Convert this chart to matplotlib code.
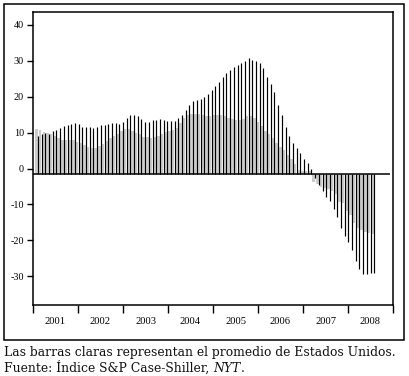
import numpy as np
import matplotlib
matplotlib.use("Agg")
import matplotlib.pyplot as plt
from matplotlib.patches import Rectangle

# ---------------- data (monthly, Jan 2001 - Aug 2008) ----------------
years = ["2001", "2002", "2003", "2004", "2005", "2006", "2007", "2008"]
yticks = [-30, -20, -10, 0, 10, 20, 30, 40]

city = [
    9.1, 9.6, 9.9, 9.7, 10.4, 10.7, 11.4, 11.8, 12.2, 12.5, 12.6, 12.3,      # 2001
    11.5, 11.5, 11.5, 11.3, 11.6, 12.1, 12.2, 12.5, 12.6, 12.6, 12.3, 12.9,  # 2002
    14.0, 14.8, 14.8, 14.6, 13.7, 13.0, 13.0, 13.5, 13.5, 13.7, 13.5, 13.2,  # 2003
    13.2, 13.3, 14.0, 15.0, 16.2, 17.6, 18.7, 19.0, 19.5, 20.0, 20.9, 22.0,  # 2004
    23.0, 24.2, 25.5, 26.5, 27.4, 28.2, 28.9, 29.5, 30.0, 30.7, 30.2, 29.9,  # 2005
    29.3, 27.9, 25.6, 23.5, 21.2, 17.6, 14.8, 11.5, 9.2, 7.1, 5.8, 4.4,      # 2006
    2.6, 1.5, -0.2, -2.5, -4.7, -6.2, -7.9, -9.0, -11.4, -13.6, -16.5, -18.7,  # 2007
    -20.5, -22.8, -25.7, -28.0, -29.5, -29.5, -29.2, -29.2,                  # 2008
]

usa = [
    10.9, 10.7, 10.2, 9.9, 9.6, 9.0, 8.6, 8.0, 8.0, 8.0, 8.0, 7.4,           # 2001
    7.1, 6.6, 5.9, 5.7, 5.7, 6.3, 6.9, 7.7, 8.6, 9.1, 9.7, 10.4,             # 2002
    10.9, 10.9, 10.4, 9.9, 9.5, 8.8, 8.7, 8.5, 8.8, 9.1, 9.5, 10.2,          # 2003
    10.4, 10.7, 11.3, 12.8, 14.2, 14.8, 15.3, 15.3, 15.3, 15.0, 14.7, 14.6,  # 2004
    15.0, 15.0, 14.8, 14.6, 14.2, 13.8, 13.6, 13.6, 13.8, 14.6, 14.6, 14.0,  # 2005
    13.0, 11.8, 10.4, 9.5, 8.5, 7.1, 6.1, 5.1, 3.9, 2.6, 1.2, -0.4,          # 2006
    -0.6, -0.8, -0.8, -3.7, -4.4, -5.1, -5.3, -5.8, -6.2, -7.0, -9.3, -9.7,  # 2007
    -11.8, -13.0, -15.3, -16.5, -17.2, -17.7, -17.9, -18.3,                  # 2008
]

caption1 = "Las barras claras representan el promedio de Estados Unidos."
caption2a = "Fuente: Índice S&P Case-Shiller, "
caption2b = "NYT"
caption2c = "."

# ---------------- figure ----------------
W, H = 409, 376
fig = plt.figure(figsize=(W / 100, H / 100), dpi=100)
serif = ["Liberation Serif", "DejaVu Serif"]
plt.rcParams["font.family"] = serif

ax = fig.add_axes([33 / W, (H - 305) / H, 360 / W, 293 / H])

base = -1.5
n = len(city)
pos = 1.33 + 0.9854 * np.arange(n)
city = np.array(city)
usa = np.array(usa)

gray_w = 0.66
ax.bar(pos - 0.08 - gray_w / 2, usa - base, bottom=base, width=gray_w,
       color="#cccccc", edgecolor="none", zorder=2)
ax.vlines(pos, base, city, colors="black", lw=0.85, zorder=3)

ax.plot([0, 95.2], [base, base], color="black", lw=1.1, zorder=4,
        solid_capstyle="butt")

ax.set_xlim(0, 96)
ax.set_ylim(-38.0, 43.6)

for s in ax.spines.values():
    s.set_linewidth(1.1)
    s.set_color("black")

ax.set_yticks(yticks)
ax.set_yticklabels([str(t) for t in yticks])
ax.tick_params(axis="y", direction="out", length=4, width=1.0, pad=2.5,
               labelsize=7.3, colors="black")

ax.set_xticks(np.arange(0, 97, 12))
ax.set_xticklabels([])
ax.set_xticks(np.arange(6, 96, 12), minor=True)
ax.set_xticklabels(years, minor=True)
ax.tick_params(axis="x", which="major", direction="out", length=6, width=1.0)
ax.tick_params(axis="x", which="minor", length=0, pad=8.5, labelsize=7.6)

# outer border
fig.patches.append(Rectangle((3.5 / W, (H - 340) / H), 400 / W, 336.5 / H,
                             transform=fig.transFigure, fill=False,
                             edgecolor="black", lw=1.1))

# caption
cap_font = ["DejaVu Serif"]
fs = 8.95
fig.text(4 / W, (H - 356) / H, caption1, fontsize=fs, va="baseline", ha="left",
         color="#111111", family=cap_font)
t1 = fig.text(4 / W, (H - 371.5) / H, caption2a, fontsize=fs, va="baseline",
              ha="left", color="#111111", family=cap_font)
fig.canvas.draw()
r = fig.canvas.get_renderer()
bb = t1.get_window_extent(r)
t2 = fig.text(bb.x1 / W, (H - 371.5) / H, caption2b, fontsize=fs, va="baseline",
              ha="left", style="italic", color="#111111", family=cap_font)
bb2 = t2.get_window_extent(r)
fig.text(bb2.x1 / W, (H - 371.5) / H, caption2c, fontsize=fs, va="baseline",
         ha="left", color="#111111", family=cap_font)

fig.savefig("out.png", dpi=100)
